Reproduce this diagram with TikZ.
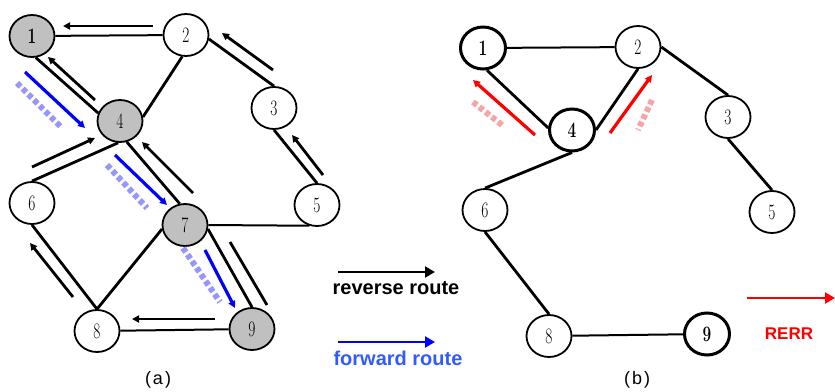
\documentclass[tikz,border=0pt]{standalone}
\usepackage{fontspec}
\newfontfamily\labelfont{Liberation Sans}
\usetikzlibrary{arrows.meta,shapes.geometric}
\definecolor{nodegray}{RGB}{192,192,192}
\definecolor{hazeblue}{RGB}{150,150,255}
\definecolor{legblue}{RGB}{50,90,255}
\definecolor{hazered}{RGB}{245,165,165}
% narrow, tall node numbers
\newcommand\digit[1]{\scalebox{0.7}[1]{\fontsize{22}{22}\selectfont #1}}
\begin{document}
\begin{tikzpicture}[x=1pt,y=-1pt,
  vtx/.style={ellipse,draw,line width=1.8pt,minimum width=45pt,minimum height=42pt,
              inner sep=0pt,fill=white},
  hot/.style={vtx,fill=nodegray},
  heavy/.style={vtx,line width=3pt},
  link/.style={line width=2.8pt},
  hlink/.style={line width=2pt},
  rev/.style={line width=2.8pt,-{Triangle[length=7pt,width=7pt]}},
  fwd/.style={line width=3.2pt,draw=blue,-{Triangle[length=7pt,width=7pt]}},
  err/.style={line width=3.2pt,draw=red,-{Triangle[length=7pt,width=7pt]}},
  haze/.style={line width=6pt,dash pattern=on 5pt off 3pt},
  legend/.style={line width=2.2pt,-{Triangle[length=10pt,width=11pt]}},
]
\useasboundingbox (0,0) rectangle (835,391);

% ---------- (a) route discovery ----------
\node[hot] (a1) at (32,36)  {\bfseries\digit{1}};
\node[vtx] (a2) at (186,35) {\digit{2}};
\node[vtx] (a3) at (274,108) {\digit{3}};
\node[hot] (a4) at (120,121) {\digit{4}};
\node[vtx] (a5) at (317,205) {\digit{5}};
\node[vtx] (a6) at (32,203) {\digit{6}};
\node[hot] (a7) at (185,225) {\digit{7}};
\node[vtx] (a8) at (97,331) {\digit{8}};
\node[hot] (a9) at (252,329) {\digit{9}};

\draw[hlink] (a1) -- (a2);
\draw[link] (a1.-80) -- (a4.160);
\draw[link] (a2.-100) -- (a4.10);
\draw[link] (a2.-10) -- (a3.north);
\draw[link] (a3.south) -- (a5.north);
\draw[hlink] (a7.east) -- (a5.250);
\draw[link] (a4.-72) -- (a7.104);
\draw[link] (a4.-95) -- (a6.north);
\draw[link] (a6.south) -- (a8.north);
\draw[link] (a8.north) -- (a7.190);
\draw[link] (a7.-10) -- (a9.north);
\draw[hlink] (a8) -- (a9);

% reverse route
\draw[rev] (153,26) -- (63,26);
\draw[rev] (273,70) -- (222,33);
\draw[rev] (323,175) -- (292,135);
\draw[rev] (95,100) -- (48,57);
\draw[rev] (193,193) -- (142,142);
\draw[rev] (32,167) -- (95,138);
\draw[line width=2.8pt] (267,305) -- (230,242);
\draw[rev] (73,297) -- (30,243);
\draw[rev] (215,319) -- (132,319);

% forward route
\draw[haze,hazeblue] (17,83) -- (62,128);
\draw[haze,hazeblue] (107,165) -- (147,208);
\draw[haze,hazeblue] (183,248) -- (220,302);
\draw[fwd] (25,72) -- (85,128);
\draw[fwd] (115,155) -- (167,205);
\draw[fwd] (205,250) -- (235,308);

% legend
\draw[legend] (338,272) -- (435,272);
\node[font=\labelfont\bfseries\fontsize{20}{20}\selectfont] (revtxt) at (396,288) {reverse route};
\draw[legend,blue] (338,342) -- (435,342);
\node[font=\labelfont\bfseries\fontsize{20}{20}\selectfont,text=legblue] (fwdtxt) at (398,358) {forward route};

% ---------- (b) route error ----------
\node[heavy] (b1) at (483,48)  {\bfseries\digit{1}};
\node[vtx]   (b2) at (638,47)  {\digit{2}};
\node[vtx]   (b3) at (728,117) {\digit{3}};
\node[heavy] (b4) at (572,130) {\bfseries\digit{4}};
\node[vtx]   (b5) at (772,212) {\digit{5}};
\node[vtx]   (b6) at (485,210) {\digit{6}};
\node[vtx]   (b8) at (549,336) {\digit{8}};
\node[heavy] (b9) at (707,334) {\bfseries\digit{9}};

\draw[hlink] (b1) -- (b2);
\draw[link] (b1.-80) -- (b4.175);
\draw[link] (b4.east) -- (b2.south);
\draw[link] (b2.east) -- (b3.north);
\draw[link] (b3.south) -- (b5.north);
\draw[link] (b4.south) -- (b6.north);
\draw[link] (b6.south) -- (b8.north);
\draw[hlink] (b8) -- (b9);

\draw[haze,hazered] (473,102) -- (502,125);
\draw[haze,hazered] (652,100) -- (638,130);
\draw[err] (535,135) -- (473,80);
\draw[err] (610,133) -- (652,75);

\draw[legend,red] (747,298) -- (835,298);
\node[font=\labelfont\bfseries\fontsize{17}{17}\selectfont,text=red] (errtxt) at (789,334) {RERR};

% captions
\node[font=\labelfont\fontsize{18}{18}\selectfont] (capa) at (158,380) {(\hspace{2pt}a\hspace{2pt})};
\node[font=\labelfont\fontsize{18}{18}\selectfont] (capb) at (637,380) {(\hspace{2pt}b\hspace{2pt})};
\end{tikzpicture}
\end{document}
